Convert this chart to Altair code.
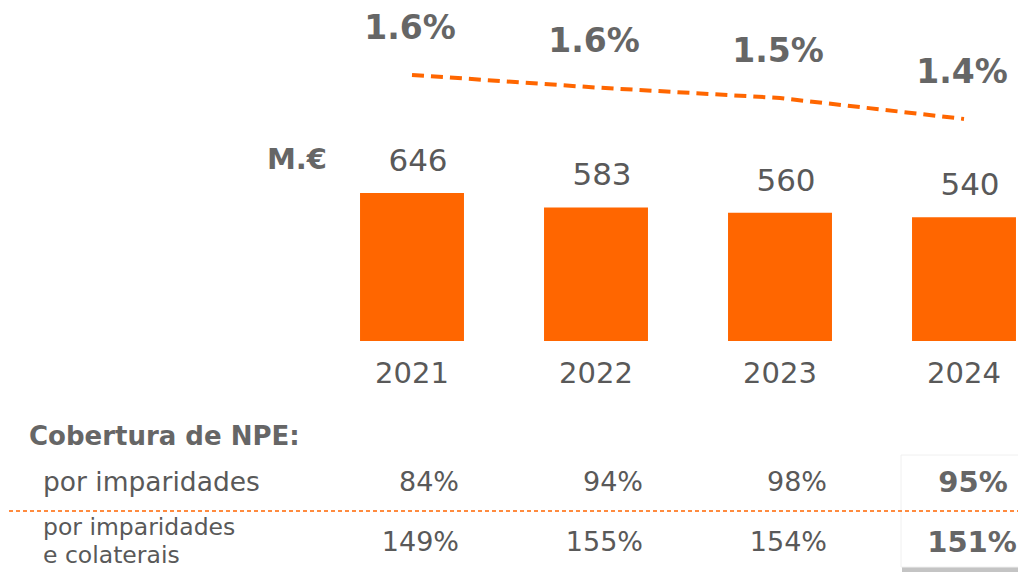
import altair as alt
import pandas as pd

years = ["2021", "2022", "2023", "2024"]
npe = [646, 583, 560, 540]
npe_ratio = [1.62, 1.56, 1.51, 1.41]
cov_imp = [84, 94, 98, 95]
cov_col = [149, 155, 154, 151]
unit_label = "M.€"
table_title = "Cobertura de NPE:"
row1_label = "por imparidades"
row2_label = "por imparidades\ne colaterais"

ORANGE = "#FF6600"
GRAY = "#595959"
DGRAY = "#666666"
FONT = "DejaVu Sans"

df = pd.DataFrame({"year": years, "npe": npe, "ratio": npe_ratio,
                   "cimp": cov_imp, "ccol": cov_col})

xscale = alt.Scale(domain=years, range=[311, 1047], paddingInner=0.435, paddingOuter=0.2175)
ybar = alt.Scale(domain=[0, 1453], range=[333, 0], nice=False, zero=False)
yline = alt.Scale(domain=[1.3, 1.7], range=[134, 50.2], nice=False, zero=False)

base = alt.Chart(df).encode(x=alt.X("year:N", scale=xscale, axis=None))

bars = base.mark_bar(color=ORANGE).encode(y=alt.Y("npe:Q", scale=ybar, axis=None))
bar_labels = base.mark_text(dx=6, dy=-31, baseline="middle", fontSize=31, color=GRAY, font=FONT).encode(
    y=alt.Y("npe:Q", scale=ybar, axis=None), text="npe:Q")
year_labels = base.mark_text(baseline="middle", fontSize=29, color=GRAY, font=FONT).encode(
    y=alt.value(366), text="year:N")

line = base.mark_line(color=ORANGE, strokeWidth=4, strokeDash=[12, 7]).encode(
    y=alt.Y("ratio:Q", scale=yline, axis=None))
ratio_labels = base.transform_calculate(
    lbl="format(datum.ratio, '.1f') + '%'"
).mark_text(dx=-2, dy=-46, baseline="middle", fontSize=33, fontWeight="bold", color=DGRAY, font=FONT).encode(
    y=alt.Y("ratio:Q", scale=yline, axis=None), text="lbl:N")

def single_text(txt, x, y, size, weight="normal", align="left", baseline="middle", **kw):
    return alt.Chart(pd.DataFrame({"t": [txt]})).mark_text(
        align=align, baseline=baseline, fontSize=size, fontWeight=weight,
        color=DGRAY if weight == "bold" else GRAY, font=FONT, **kw
    ).encode(text="t:N", x=alt.value(x), y=alt.value(y))

unit = single_text(unit_label, 288, 152, 29, "bold", "center")
title = single_text(table_title, 20, 429, 26, "bold")
r1 = single_text(row1_label, 34, 475, 26.5)
r2 = single_text(row2_label, 34, 508, 23.5, baseline="top", lineBreak="\n", lineHeight=28)

last = base.transform_filter("datum.year == '2024'")
shadow = last.mark_bar(width=124, color="#c4c4c4").encode(y=alt.value(452), y2=alt.value(564))
box = last.mark_bar(width=126, color="white", stroke="#f0f0f0", strokeWidth=1).encode(
    y=alt.value(447), y2=alt.value(559))

sep = alt.Chart(pd.DataFrame({"a": [0]})).mark_rule(
    color=ORANGE, strokeWidth=1.5, strokeDash=[4, 3]
).encode(x=alt.value(0), x2=alt.value(1018), y=alt.value(503))

rest = base.transform_filter("datum.year != '2024'").transform_calculate(
    l1="datum.cimp + '%'", l2="datum.ccol + '%'")
v1 = rest.mark_text(align="right", dx=47, baseline="middle", fontSize=27, color=GRAY, font=FONT).encode(
    y=alt.value(475), text="l1:N")
v2 = rest.mark_text(align="right", dx=47, baseline="middle", fontSize=27, color=GRAY, font=FONT).encode(
    y=alt.value(535), text="l2:N")
lastc = last.transform_calculate(l1="datum.cimp + '%'", l2="datum.ccol + '%'")
b1 = lastc.mark_text(align="center", dx=9, baseline="middle", fontSize=29, fontWeight="bold", color=DGRAY, font=FONT).encode(
    y=alt.value(475), text="l1:N")
b2 = lastc.mark_text(align="center", dx=8, baseline="middle", fontSize=29, fontWeight="bold", color=DGRAY, font=FONT).encode(
    y=alt.value(535), text="l2:N")

chart = alt.layer(
    shadow, box, sep, bars, bar_labels, year_labels, line, ratio_labels,
    unit, title, r1, r2, v1, v2, b1, b2
).resolve_scale(y="independent").properties(
    width=1010, height=564, padding=0,
    autosize=alt.AutoSizeParams(type="fit", contains="padding"),
    background="white"
).configure_view(stroke=None)

chart.save("out.html", embed_options={"renderer": "svg", "actions": False})
